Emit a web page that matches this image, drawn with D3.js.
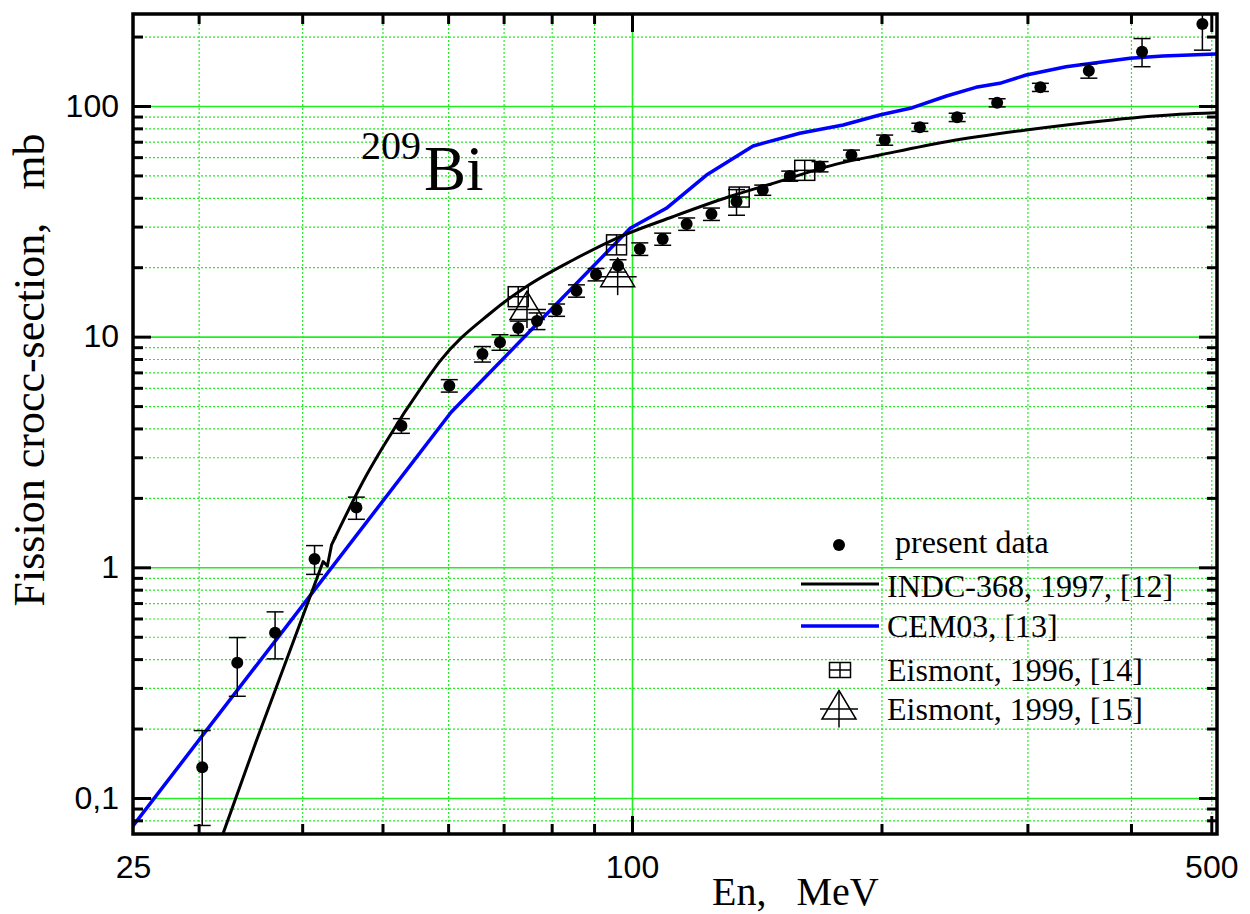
<!DOCTYPE html>
<html>
<head>
<meta charset="utf-8">
<script src="https://cdn.jsdelivr.net/npm/d3@7"></script>
<style>
  html, body { margin: 0; padding: 0; background: #fff; }
  svg { display: block; }
  .serif { font-family: "Liberation Serif", "Times New Roman", serif; }
</style>
</head>
<body>
<svg id="chart" width="1250" height="914"></svg>
<script>
// ---------------- data ----------------
const presentE   = [30.3, 33.4, 37.1, 41.4, 46.5, 52.7, 60.2, 66.0, 69.3, 72.9, 76.8, 81.1, 85.7, 90.5, 96.2, 102.2, 108.9, 116.4, 124.7, 133.7, 143.8, 155, 168.6, 184, 201.8, 222.5, 246.8, 275.8, 311, 355.8, 412.5, 487.8];
const presentSig = [0.136, 0.386, 0.521, 1.087, 1.815, 4.11, 6.13, 8.41, 9.46, 10.9, 11.7, 13.05, 15.8, 18.6, 20.3, 24.0, 26.5, 30.8, 34.0, 38.5, 43.2, 49.7, 54.6, 61.3, 71.2, 80.9, 89.3, 103.3, 120.5, 142.2, 172, 226.6];
const presentErr = [0.06, 0.11, 0.12, 0.155, 0.2, 0.3, 0.38, 0.65, 0.73, 0.78, 0.97, 0.8, 0.97, 1.15, 1.25, 1.5, 1.6, 1.9, 2.1, 4.9, 2.2, 2.5, 2.8, 3.1, 3.6, 3.3, 3.7, 4.2, 4.9, 10.2, 24, 52];

// INDC-368 curve: low-energy part (with the small kink) and smooth upper part
const indcLowE   = [32.1, 35.25, 42.4, 42.9, 43.4, 43.8];
const indcLowSig = [0.0699, 0.1786, 1.059, 1.014, 1.25, 1.34];
const indcHighE   = [43.8, 47.8, 50.1, 56.5, 58.6, 67.4, 74.6, 84.9, 95.8, 112, 131.2, 148, 178, 199, 239.6, 299, 380, 458, 507];
const indcHighSig = [1.34, 2.5, 3.34, 6.49, 7.79, 12.6, 16.5, 21.5, 26.7, 33.1, 40.5, 46.2, 56.4, 61.3, 70.0, 78.7, 87.0, 92.0, 93.5];

const cemE   = [25, 60.5, 99.5, 110, 123, 140, 159.4, 179.8, 199, 218, 239.6, 260, 277.8, 299, 334, 399, 437, 507];
const cemSig = [0.0757, 4.7, 29.5, 36.0, 50.2, 67.1, 76.2, 82.7, 91.4, 98.3, 110.5, 120.5, 125.4, 136.2, 148, 161, 164.7, 168];

const eis96E   = [72.9, 95.8, 134.7, 161.6];
const eis96Sig = [14.9, 25.0, 40.3, 52.6];
const eis99E   = [74.7, 96.1];
const eis99Sig = [13.1, 18.2];

const xMajorTicks = [100, 500];
const xMinorTicks = [30, 40, 50, 60, 70, 80, 90, 200, 300, 400];
const xLabelValues = [25, 100, 500];
const xLabelTexts  = ["25", "100", "500"];

const yMajorTicks = [0.1, 1, 10, 100];
const yLabelTexts = ["0,1", "1", "10", "100"];
const yMinorTicks = [0.08, 0.09, 0.2, 0.3, 0.4, 0.5, 0.6, 0.7, 0.8, 0.9, 2, 3, 4, 5, 6, 7, 8, 9, 20, 30, 40, 50, 60, 70, 80, 90, 200];

const legendLabels = [" present data", "INDC-368, 1997, [12]", "CEM03, [13]", "Eismont, 1996, [14]", "Eismont, 1999, [15]"];

// ---------------- layout ----------------
const L = 133, R = 1217, T = 14, B = 834;
const svg = d3.select("#chart");
const x = d3.scaleLog().domain([25, 508]).range([L, R]);
const y = d3.scaleLog().domain([0.0698, 250.5]).range([B, T]);
const GRID = "#22ee22";

svg.append("defs").append("clipPath").attr("id", "plotclip")
  .append("rect").attr("x", L).attr("y", T).attr("width", R - L).attr("height", B - T);

// ---------------- grid ----------------
function styleGrid(g, dashed) {
  g.select(".domain").remove();
  g.selectAll("text").remove();
  g.selectAll("line").attr("stroke", GRID).attr("stroke-width", dashed ? 1.2 : 1.6)
    .attr("stroke-dasharray", dashed ? "2,2" : null);
}
svg.append("g").attr("transform", `translate(0,${B})`)
  .call(d3.axisBottom(x).tickValues(xMinorTicks.concat([500])).tickSize(-(B - T)).tickFormat(""))
  .call(g => styleGrid(g, true));
svg.append("g").attr("transform", `translate(0,${B})`)
  .call(d3.axisBottom(x).tickValues([100]).tickSize(-(B - T)).tickFormat(""))
  .call(g => styleGrid(g, false));
svg.append("g").attr("transform", `translate(${L},0)`)
  .call(d3.axisLeft(y).tickValues(yMinorTicks).tickSize(-(R - L)).tickFormat(""))
  .call(g => styleGrid(g, true));
svg.append("g").attr("transform", `translate(${L},0)`)
  .call(d3.axisLeft(y).tickValues(yMajorTicks).tickSize(-(R - L)).tickFormat(""))
  .call(g => styleGrid(g, false));

// ---------------- curves ----------------
const plot = svg.append("g").attr("clip-path", "url(#plotclip)");
const line = d3.line().x(d => x(d[0])).y(d => y(d[1]));
const smoothLine = d3.line().x(d => x(d[0])).y(d => y(d[1])).curve(d3.curveMonotoneX);

plot.append("path").datum(d3.zip(cemE, cemSig))
  .attr("d", line).attr("fill", "none").attr("stroke", "#0000ff").attr("stroke-width", 3.5)
  .attr("stroke-linejoin", "round");
plot.append("path").datum(d3.zip(indcLowE, indcLowSig))
  .attr("d", line).attr("fill", "none").attr("stroke", "#000").attr("stroke-width", 3)
  .attr("stroke-linejoin", "round").attr("stroke-linecap", "round");
plot.append("path").datum(d3.zip(indcHighE, indcHighSig))
  .attr("d", smoothLine).attr("fill", "none").attr("stroke", "#000").attr("stroke-width", 3)
  .attr("stroke-linejoin", "round").attr("stroke-linecap", "round");

// ---------------- Eismont markers ----------------
function squareMarker(g, cx, cy, w, h) {
  g.append("rect").attr("x", cx - w / 2).attr("y", cy - h / 2).attr("width", w).attr("height", h)
    .attr("fill", "none").attr("stroke", "#000").attr("stroke-width", 1.5);
  g.append("line").attr("x1", cx - w / 2).attr("x2", cx + w / 2).attr("y1", cy).attr("y2", cy)
    .attr("stroke", "#000").attr("stroke-width", 1.5);
  g.append("line").attr("x1", cx).attr("x2", cx).attr("y1", cy - h / 2).attr("y2", cy + h / 2)
    .attr("stroke", "#000").attr("stroke-width", 1.5);
}
function triangleMarker(g, cx, cy) {
  g.append("path").attr("d", `M${cx},${cy - 18.5}L${cx + 17},${cy + 10}L${cx - 17},${cy + 10}Z`)
    .attr("fill", "none").attr("stroke", "#000").attr("stroke-width", 1.5);
  g.append("line").attr("x1", cx - 19).attr("x2", cx + 19).attr("y1", cy).attr("y2", cy)
    .attr("stroke", "#000").attr("stroke-width", 1.5);
  g.append("line").attr("x1", cx).attr("x2", cx).attr("y1", cy - 18.5).attr("y2", cy + 18.5)
    .attr("stroke", "#000").attr("stroke-width", 1.5);
}
eis96E.forEach((e, i) => squareMarker(plot, x(e), y(eis96Sig[i]), 20, 20));
eis99E.forEach((e, i) => triangleMarker(plot, x(e), y(eis99Sig[i])));

// ---------------- present data ----------------
const pts = d3.range(presentE.length).map(i => ({ e: presentE[i], s: presentSig[i], err: presentErr[i] }));
const pg = plot.append("g");
pts.forEach(p => {
  const cx = x(p.e), y1 = y(p.s + p.err), y0 = y(Math.max(p.s - p.err, 0.01));
  pg.append("line").attr("x1", cx).attr("x2", cx).attr("y1", y1).attr("y2", y0)
    .attr("stroke", "#000").attr("stroke-width", 1.5);
  [y1, y0].forEach(yy => pg.append("line").attr("x1", cx - 8.5).attr("x2", cx + 8.5)
    .attr("y1", yy).attr("y2", yy).attr("stroke", "#000").attr("stroke-width", 1.5));
  pg.append("circle").attr("cx", cx).attr("cy", y(p.s)).attr("r", 6).attr("fill", "#000");
});

// ---------------- axes (ticks inward) ----------------
function styleTicks(g, w) {
  g.select(".domain").remove();
  g.selectAll("line").attr("stroke", "#000").attr("stroke-width", w);
}
svg.append("g").attr("transform", `translate(0,${B})`)
  .call(d3.axisBottom(x).tickValues(xMinorTicks).tickSize(-10).tickFormat(""))
  .call(g => styleTicks(g, 3));
svg.append("g").attr("transform", `translate(0,${B})`)
  .call(d3.axisBottom(x).tickValues(xMajorTicks).tickSize(-18).tickFormat(""))
  .call(g => styleTicks(g, 3));
svg.append("g").attr("transform", `translate(0,${T})`)
  .call(d3.axisTop(x).tickValues(xMinorTicks).tickSize(-10).tickFormat(""))
  .call(g => styleTicks(g, 3));
svg.append("g").attr("transform", `translate(0,${T})`)
  .call(d3.axisTop(x).tickValues(xMajorTicks).tickSize(-18).tickFormat(""))
  .call(g => styleTicks(g, 3));
svg.append("g").attr("transform", `translate(${L},0)`)
  .call(d3.axisLeft(y).tickValues(yMinorTicks).tickSize(-10).tickFormat(""))
  .call(g => styleTicks(g, 3));
svg.append("g").attr("transform", `translate(${L},0)`)
  .call(d3.axisLeft(y).tickValues(yMajorTicks).tickSize(-18).tickFormat(""))
  .call(g => styleTicks(g, 3));
svg.append("g").attr("transform", `translate(${R},0)`)
  .call(d3.axisRight(y).tickValues(yMinorTicks).tickSize(-10).tickFormat(""))
  .call(g => styleTicks(g, 3));
svg.append("g").attr("transform", `translate(${R},0)`)
  .call(d3.axisRight(y).tickValues(yMajorTicks).tickSize(-18).tickFormat(""))
  .call(g => styleTicks(g, 3));

// tick labels
svg.append("g").attr("transform", `translate(0,${B})`)
  .call(d3.axisBottom(x).tickValues(xLabelValues).tickSize(0).tickPadding(21)
    .tickFormat((d, i) => xLabelTexts[i]))
  .call(g => { g.select(".domain").remove();
    g.selectAll("text").attr("font-size", 32).attr("fill", "#000")
      .attr("font-family", "Liberation Sans, Arial, sans-serif"); });
svg.append("g").attr("transform", `translate(${L},0)`)
  .call(d3.axisLeft(y).tickValues(yMajorTicks).tickSize(0).tickPadding(14)
    .tickFormat((d, i) => yLabelTexts[i]))
  .call(g => { g.select(".domain").remove();
    g.selectAll("text").attr("font-size", 32).attr("fill", "#000")
      .attr("font-family", "Liberation Sans, Arial, sans-serif"); });

// frame
svg.append("rect").attr("x", L).attr("y", T).attr("width", R - L).attr("height", B - T)
  .attr("fill", "none").attr("stroke", "#000").attr("stroke-width", 3.5);

// axis titles
svg.append("text").attr("class", "serif").attr("x", 712).attr("y", 905)
  .attr("font-size", 40).style("white-space", "pre").text("En,   MeV");
svg.append("text").attr("class", "serif")
  .attr("transform", "translate(44,370) rotate(-90)").attr("text-anchor", "middle")
  .attr("font-size", 44).style("white-space", "pre").text("Fission crocc-section,   mb");

// nucleus annotation
const ann = svg.append("text").attr("class", "serif").attr("x", 361).attr("y", 190);
ann.append("tspan").attr("font-size", 40).attr("dy", -31).text("209");
ann.append("tspan").attr("font-size", 63).attr("dy", 31).attr("dx", 3).text("Bi");

// ---------------- legend ----------------
const lg = svg.append("g").attr("class", "serif");
const lx = 887, lBase = [553, 597, 637, 681, 720];
lg.append("circle").attr("cx", 839).attr("cy", 545).attr("r", 6).attr("fill", "#000");
lg.append("line").attr("x1", 801).attr("x2", 879).attr("y1", 584).attr("y2", 584)
  .attr("stroke", "#000").attr("stroke-width", 3);
lg.append("line").attr("x1", 801).attr("x2", 879).attr("y1", 626).attr("y2", 626)
  .attr("stroke", "#0000ff").attr("stroke-width", 3.5);
squareMarker(lg, 840, 670, 21, 15);
triangleMarker(lg, 839, 709);
legendLabels.forEach((t, i) => {
  lg.append("text").attr("x", lx).attr("y", lBase[i]).attr("font-size", 32)
    .style("white-space", "pre").text(t);
});
</script>
</body>
</html>
